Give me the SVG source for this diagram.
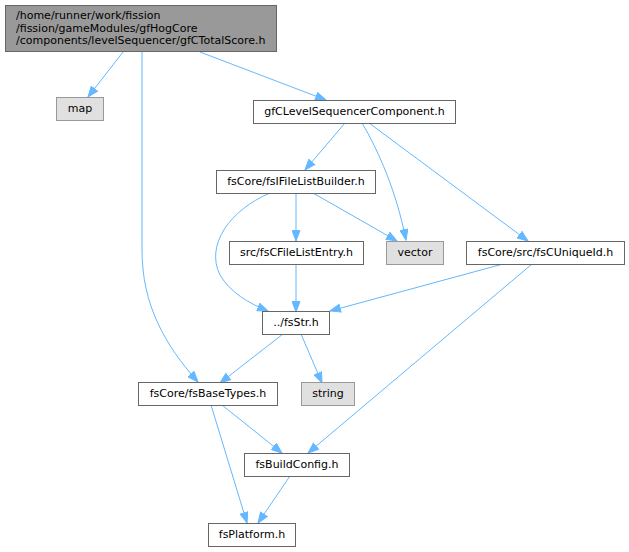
<svg xmlns="http://www.w3.org/2000/svg" width="629" height="552" viewBox="0 0 629 552">
<defs>
<marker id="ah" markerWidth="12" markerHeight="9" refX="11" refY="4.5" orient="auto" markerUnits="userSpaceOnUse">
<path d="M0.5,0.5 L11,4.5 L0.5,8.5 Z" fill="#63b8ff" stroke="#63b8ff" stroke-width="1"/>
</marker>
</defs>
<style>
text{font-family:"DejaVu Sans",sans-serif;font-size:11px;fill:#000}
.n rect{fill:#fff;stroke:#666;stroke-width:1}
.g rect{fill:#e0e0e0;stroke:#999;stroke-width:1}
.r rect{fill:#999;stroke:#666;stroke-width:1}
.n text,.g text{text-anchor:middle}
#edges path{fill:none;stroke:#63b8ff;stroke-width:1;marker-end:url(#ah)}
</style>
<rect width="629" height="552" fill="#fff"/>
<g id="edges">
<path d="M123,52 L88,97"/>
<path d="M142,52 L142,250 C142,305 165,345 198,382"/>
<path d="M200,52 L326,100"/>
<path d="M345,123 L305,170"/>
<path d="M362,123 C378,150 396,190 406,240"/>
<path d="M369,123 L528,241"/>
<path d="M313,193 L397,241"/>
<path d="M296,193 L296,241"/>
<path d="M270,193 C230,210 205,245 220,275 C230,292 248,303 268,311"/>
<path d="M296,264 L296,312"/>
<path d="M503,264 L330,311"/>
<path d="M532,264 L308,453"/>
<path d="M283,334 L220,383"/>
<path d="M301,334 L322,383"/>
<path d="M222,405 L282,453"/>
<path d="M211,405 L247,523"/>
<path d="M290,476 L258,523"/>
</g>
<g id="root" class="r">
<rect x="5.5" y="5.5" width="271" height="46"/>
<text x="16" y="19">/home/runner/work/fission</text>
<text x="16" y="31.5">/fission/gameModules/gfHogCore</text>
<text x="16" y="44">/components/levelSequencer/gfCTotalScore.h</text>
</g>
<g id="map" class="g">
<rect x="56.5" y="97.5" width="47" height="23"/>
<text x="80" y="111.5">map</text>
</g>
<g id="gfCLevelSequencerComponent" class="n">
<rect x="253.5" y="100.5" width="202" height="23"/>
<text x="354.5" y="114.5">gfCLevelSequencerComponent.h</text>
</g>
<g id="fsIFileListBuilder" class="n">
<rect x="216.5" y="170.5" width="159" height="23"/>
<text x="296" y="184.5">fsCore/fsIFileListBuilder.h</text>
</g>
<g id="fsCFileListEntry" class="n">
<rect x="229.5" y="241.5" width="134" height="23"/>
<text x="296.5" y="255.5">src/fsCFileListEntry.h</text>
</g>
<g id="vector" class="g">
<rect x="386.5" y="241.5" width="57" height="23"/>
<text x="415" y="255.5">vector</text>
</g>
<g id="fsCUniqueId" class="n">
<rect x="466.5" y="241.5" width="158" height="23"/>
<text x="545.5" y="255.5">fsCore/src/fsCUniqueId.h</text>
</g>
<g id="fsStr" class="n">
<rect x="262.5" y="311.5" width="67" height="23"/>
<text x="296" y="325.5">../fsStr.h</text>
</g>
<g id="fsBaseTypes" class="n">
<rect x="138.5" y="382.5" width="139" height="23"/>
<text x="208" y="396.5">fsCore/fsBaseTypes.h</text>
</g>
<g id="string" class="g">
<rect x="301.5" y="382.5" width="53" height="23"/>
<text x="328" y="396.5">string</text>
</g>
<g id="fsBuildConfig" class="n">
<rect x="244.5" y="453.5" width="105" height="23"/>
<text x="297" y="467.5">fsBuildConfig.h</text>
</g>
<g id="fsPlatform" class="n">
<rect x="208.5" y="523.5" width="87" height="23"/>
<text x="252" y="537.5">fsPlatform.h</text>
</g>
</svg>
